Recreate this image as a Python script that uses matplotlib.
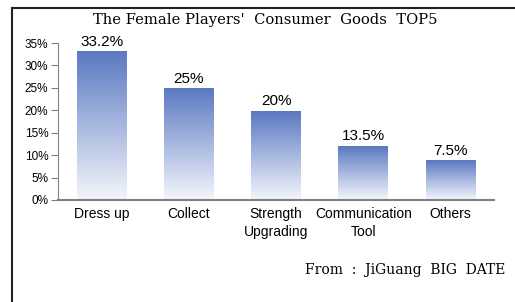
import numpy as np
import matplotlib.pyplot as plt
from matplotlib.lines import Line2D

categories = ["Dress up", "Collect", "Strength\nUpgrading", "Communication\nTool", "Others"]
heights = [33.0, 24.8, 19.8, 12.0, 8.7]  # bar heights as drawn
labels = ["33.2%", "25%", "20%", "13.5%", "7.5%"]  # printed values
yticks = [0, 5, 10, 15, 20, 25, 30, 35]

fig = plt.figure(figsize=(5.15, 3.02), dpi=100)
ax = fig.add_axes([58 / 515, 102 / 302, 436 / 515, 157 / 302])

# vertical gradient: blue at top fading to near white at bottom
top = np.array([0x5b, 0x79, 0xc2]) / 255
bot = np.array([0xf4, 0xf6, 0xfc]) / 255
t = np.linspace(0, 1, 256)[:, None]
grad = (bot + (top - bot) * t)[:, None, :]

w = 0.57
for i, h in enumerate(heights):
    ax.imshow(grad, extent=[i - w / 2, i + w / 2, 0, h], origin="lower",
              aspect="auto", interpolation="bilinear", zorder=2)
    ax.text(i, h + 0.6, labels[i], ha="center", va="bottom",
            fontsize=11, family="Liberation Sans")

ax.set_xlim(-0.5, 4.5)
ax.set_ylim(0, 35)
ax.set_xticks(range(len(categories)))
ax.set_xticklabels(categories, fontsize=10, family="Liberation Sans",
                   linespacing=1.35)
ax.tick_params(axis="x", length=0, pad=5)
ax.set_yticks(yticks)
ax.set_yticklabels([f"{v}%" for v in yticks], fontsize=8.5, family="Liberation Sans")
ax.tick_params(axis="y", length=5, width=0.8, color="#808080", pad=2)
for s in ["top", "right"]:
    ax.spines[s].set_visible(False)
ax.spines["left"].set_color("#808080")
ax.spines["bottom"].set_color("#808080")
ax.spines["bottom"].set_linewidth(1.5)

fig.text(265 / 515, 1 - 20 / 302, "The Female Players'  Consumer  Goods  TOP5",
         ha="center", va="center", fontsize=10.6, family="DejaVu Serif")
fig.text(505 / 515, 1 - 270 / 302, "From  :  JiGuang  BIG  DATE",
         ha="right", va="center", fontsize=10, family="DejaVu Serif")

# frame lines of the original picture
fig.add_artist(Line2D([12 / 515, 1], [1 - 8 / 302] * 2, color="#222222", lw=1.5))
fig.add_artist(Line2D([12 / 515] * 2, [0, 1 - 8 / 302], color="#222222", lw=1.5))

fig.savefig("out.png", dpi=100)
